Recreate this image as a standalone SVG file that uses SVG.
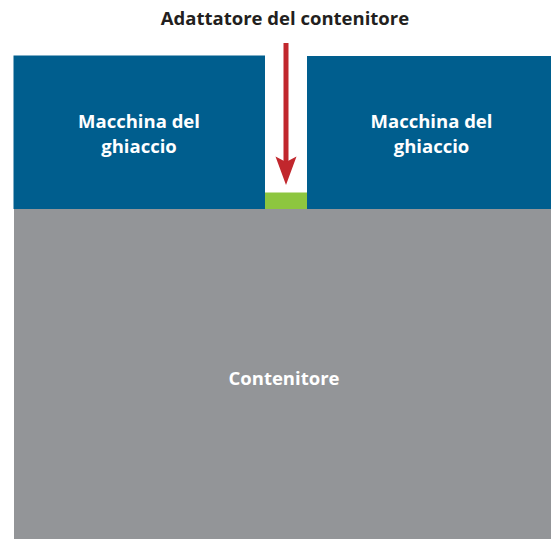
<svg xmlns="http://www.w3.org/2000/svg" width="551" height="539" viewBox="0 0 551 539">
<style>
.lbl{font-family:"Open Sans","Liberation Sans",sans-serif;font-weight:bold;font-size:18.5px;text-anchor:middle}
.w{fill:#ffffff}
.k{fill:#231f20}
.blue{fill:#005e8e}
</style>
<rect width="551" height="539" fill="#ffffff"/>
<g id="contenitore">
<rect x="14" y="209" width="537" height="330" fill="#939598"/>
<text class="lbl w" x="284" y="385">Contenitore</text>
</g>
<g id="macchina1">
<rect class="blue" x="13.5" y="55.5" width="251.5" height="153.5"/>
<text class="lbl w" x="139" y="128.3">Macchina del</text>
<text class="lbl w" x="139" y="153.3">ghiaccio</text>
</g>
<g id="macchina2">
<rect class="blue" x="307" y="56" width="244" height="153"/>
<text class="lbl w" x="431.5" y="128.3">Macchina del</text>
<text class="lbl w" x="431.5" y="153.3">ghiaccio</text>
</g>
<g id="adattatore">
<rect x="265" y="192.5" width="42" height="16.5" fill="#8dc63f"/>
<text class="lbl k" x="285" y="24.5">Adattatore del contenitore</text>
</g>
<g id="connectors">
<rect x="283.5" y="43" width="5" height="120" fill="#c1272d"/>
<polygon points="286,185 275.5,156.5 286,162 296.5,156.5" fill="#c1272d"/>
</g>
</svg>
